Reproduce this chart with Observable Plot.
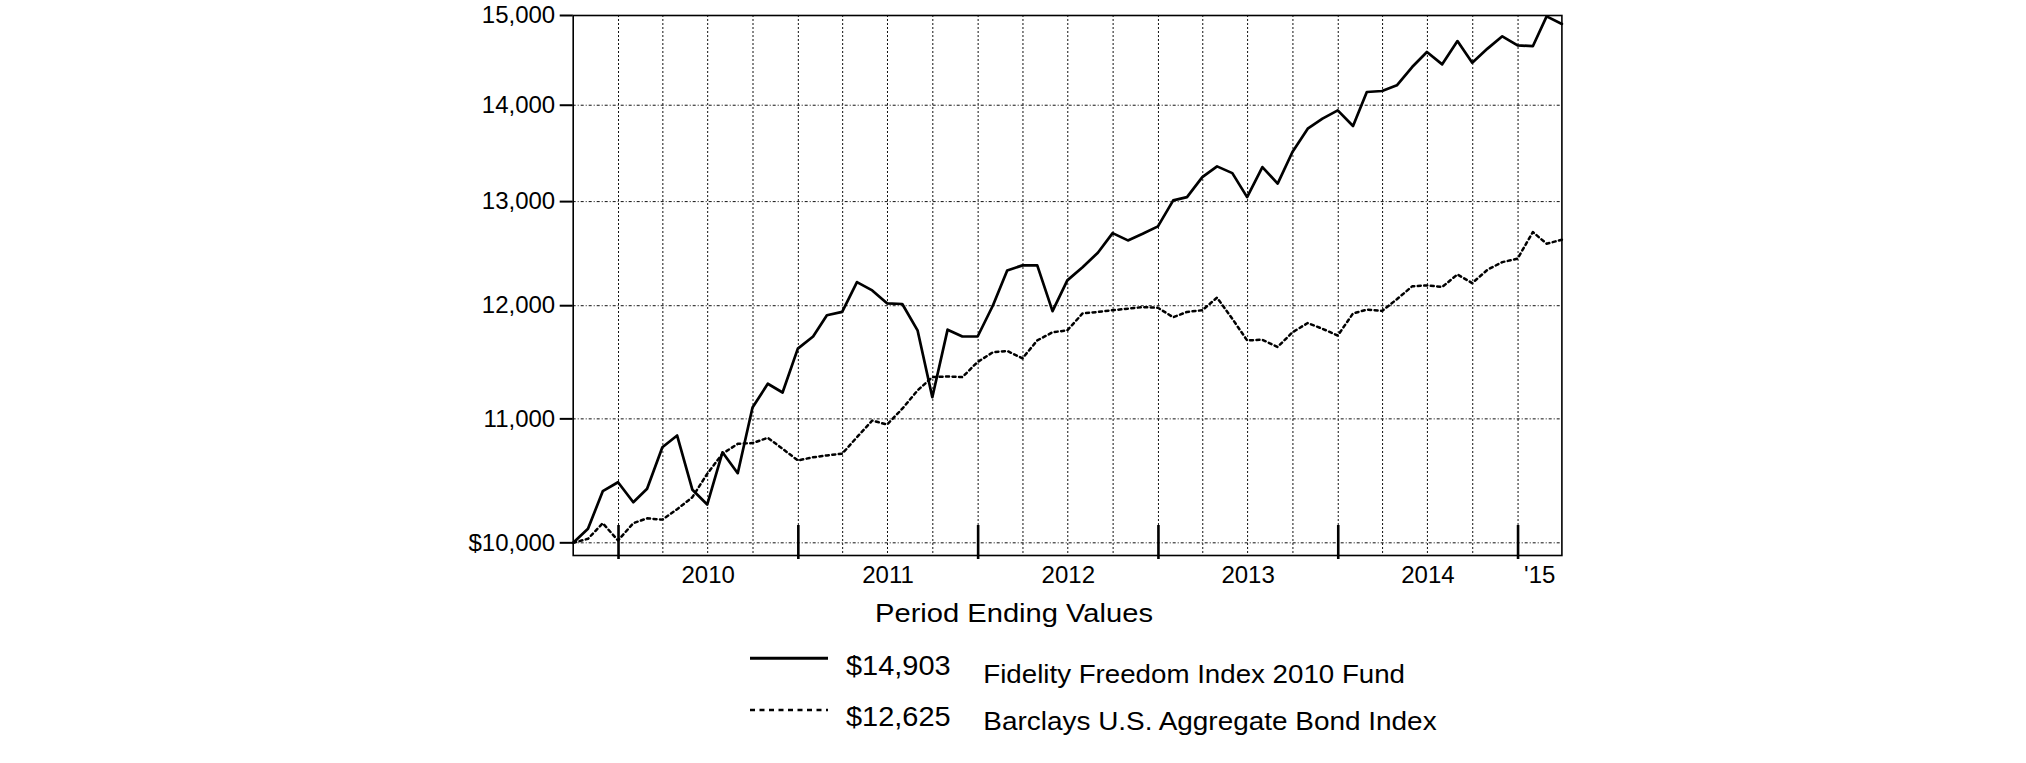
<!DOCTYPE html>
<html>
<head>
<meta charset="utf-8">
<script src="https://cdn.jsdelivr.net/npm/d3@7"></script>
<script src="https://cdn.jsdelivr.net/npm/@observablehq/plot@0.6"></script>
<style>
  html, body { margin: 0; padding: 0; background: #fff; }
  #wrap { position: relative; width: 2026px; height: 763px; overflow: hidden; background: #fff; }
  #chart { position: absolute; left: 0; top: 0; }
  #legend { position: absolute; left: 0; top: 0; pointer-events: none; }
</style>
</head>
<body>
<div id="wrap"><div id="chart"></div><svg id="legend" width="2026" height="763"></svg></div>
<script>
// Period-ending dates (first entry = starting value)
const periodEnds = [
  "2009-10-01","2009-10-31","2009-11-30","2009-12-31",
  "2010-01-31","2010-02-28","2010-03-31","2010-04-30","2010-05-31","2010-06-30",
  "2010-07-31","2010-08-31","2010-09-30","2010-10-31","2010-11-30","2010-12-31",
  "2011-01-31","2011-02-28","2011-03-31","2011-04-30","2011-05-31","2011-06-30",
  "2011-07-31","2011-08-31","2011-09-30","2011-10-31","2011-11-30","2011-12-31",
  "2012-01-31","2012-02-29","2012-03-31","2012-04-30","2012-05-31","2012-06-30",
  "2012-07-31","2012-08-31","2012-09-30","2012-10-31","2012-11-30","2012-12-31",
  "2013-01-31","2013-02-28","2013-03-31","2013-04-30","2013-05-31","2013-06-30",
  "2013-07-31","2013-08-31","2013-09-30","2013-10-31","2013-11-30","2013-12-31",
  "2014-01-31","2014-02-28","2014-03-31","2014-04-30","2014-05-31","2014-06-30",
  "2014-07-31","2014-08-31","2014-09-30","2014-10-31","2014-11-30","2014-12-31",
  "2015-01-31","2015-02-28","2015-03-31"
];

// Fidelity Freedom Index 2010 Fund (hypothetical $10,000)
const fundValues = [
  10000,10108,10405,10477,
  10317,10424,10763,10860,10416,10299,10721,10550,11097,11301,11225,11610,
  11719,11912,11943,12220,12142,12022,12016,11775,11185,11781,11719,11719,
  12002,12330,12378,12378,11950,12236,12361,12499,12689,12618,12683,12755,
  13012,13045,13247,13357,13288,13045,13350,13181,13505,13750,13857,13945,
  13778,14143,14154,14216,14417,14585,14447,14708,14466,14623,14762,14660,
  14650,14990,14903
];

// Barclays U.S. Aggregate Bond Index
const bondValues = [
  10000,10031,10152,10018,
  10152,10190,10180,10262,10357,10545,10709,10791,10797,10841,10750,10654,
  10680,10695,10709,10846,10986,10952,11086,11243,11359,11365,11359,11492,
  11578,11590,11524,11684,11757,11775,11929,11943,11958,11973,11987,11981,
  11894,11943,11958,12075,11880,11684,11690,11625,11757,11841,11789,11728,
  11929,11964,11952,12060,12180,12189,12174,12292,12210,12337,12409,12442,
  12699,12586,12625
];

// Axis ticks and labels
const yTicks = [10000, 11000, 12000, 13000, 14000, 15000];
const yTickLabels = ["$10,000", "11,000", "12,000", "13,000", "14,000", "15,000"];
const yGrid = [10000, 11000, 12000, 13000, 14000];
const quarterGrid = [
  "2010-01-01","2010-04-01","2010-07-01","2010-10-01",
  "2011-01-01","2011-04-01","2011-07-01","2011-10-01",
  "2012-01-01","2012-04-01","2012-07-01","2012-10-01",
  "2013-01-01","2013-04-01","2013-07-01","2013-10-01",
  "2014-01-01","2014-04-01","2014-07-01","2014-10-01",
  "2015-01-01"
];
const yearTicks = ["2010-01-01","2011-01-01","2012-01-01","2013-01-01","2014-01-01","2015-01-01"];
const yearLabelDates = ["2010-07-02","2011-07-02","2012-07-02","2013-07-02","2014-07-02","2015-02-14"];
const yearLabels = ["2010", "2011", "2012", "2013", "2014", "'15"];

// Legend
const legendTitle = "Period Ending Values";
const legendValues = ["$14,903", "$12,625"];
const legendLabels = ["Fidelity Freedom Index 2010 Fund", "Barclays U.S. Aggregate Bond Index"];

const FONT = '"Liberation Sans", Arial, Helvetica, sans-serif';

const data = periodEnds.map((d, i) => ({date: new Date(d), fund: fundValues[i], bond: bondValues[i]}));
const yLabelMap = new Map(yTicks.map((v, i) => [v, yTickLabels[i]]));
const xLabelDates = yearLabelDates.map(d => new Date(d));
const xLabelMap = new Map(xLabelDates.map((d, i) => [+d, yearLabels[i]]));

const chart = Plot.plot({
  width: 2026,
  height: 600,
  marginLeft: 572.7,
  marginRight: 464.6,
  marginTop: 15,
  marginBottom: 45,
  style: {fontFamily: FONT, fontSize: "24px", background: "#fff", color: "#000"},
  x: {type: "utc", domain: [new Date(periodEnds[0]), new Date(periodEnds[periodEnds.length - 1])]},
  y: {type: "log", domain: [9903, 15000]},
  marks: [
    Plot.ruleX(quarterGrid.map(d => new Date(d)), {stroke: "#111", strokeWidth: 1, strokeDasharray: "2,2"}),
    Plot.ruleY(yGrid, {stroke: "#111", strokeWidth: 1, strokeDasharray: "3,2,1,2"}),
    Plot.frame({stroke: "#000", strokeWidth: 1.6}),
    Plot.ruleX(yearTicks.map(d => new Date(d)), {insetTop: 510, insetBottom: -4, stroke: "#000", strokeWidth: 2.6}),
    Plot.line(data, {x: "date", y: "bond", stroke: "#000", strokeWidth: 2.5, strokeDasharray: "3,3.5"}),
    Plot.line(data, {x: "date", y: "fund", stroke: "#000", strokeWidth: 2.7}),
    Plot.axisY({ticks: yTicks, tickFormat: v => yLabelMap.get(v), tickSize: 13, tickPadding: 5, strokeWidth: 2, fontSize: 24, label: null}),
    Plot.axisX({ticks: xLabelDates, tickFormat: d => xLabelMap.get(+d), tickSize: 0, tickPadding: 10, fontSize: 24, label: null})
  ]
});
document.getElementById("chart").appendChild(chart);

// Legend below the chart
const lg = d3.select("#legend");
lg.append("text")
  .attr("x", 1014).attr("y", 621.7)
  .attr("text-anchor", "middle")
  .attr("font-family", FONT).attr("font-size", 25.6)
  .attr("textLength", 278).attr("lengthAdjust", "spacingAndGlyphs")
  .text(legendTitle);

const rows = [
  {sampleY: 658.3, dash: null, sw: 3, valueY: 675, labelY: 683.3, labelLen: 421.7},
  {sampleY: 710, dash: "5,4.5", sw: 2.5, valueY: 726, labelY: 730, labelLen: 453.3}
];
rows.forEach((r, i) => {
  const ln = lg.append("line")
    .attr("x1", 750).attr("x2", 828).attr("y1", r.sampleY).attr("y2", r.sampleY)
    .attr("stroke", "#000").attr("stroke-width", r.sw);
  if (r.dash) ln.attr("stroke-dasharray", r.dash);
  lg.append("text")
    .attr("x", 846).attr("y", r.valueY)
    .attr("font-family", FONT).attr("font-size", 27.5)
    .attr("textLength", 104.7).attr("lengthAdjust", "spacingAndGlyphs")
    .text(legendValues[i]);
  lg.append("text")
    .attr("x", 983.3).attr("y", r.labelY)
    .attr("font-family", FONT).attr("font-size", 25.6)
    .attr("textLength", r.labelLen).attr("lengthAdjust", "spacingAndGlyphs")
    .text(legendLabels[i]);
});
</script>
</body>
</html>
